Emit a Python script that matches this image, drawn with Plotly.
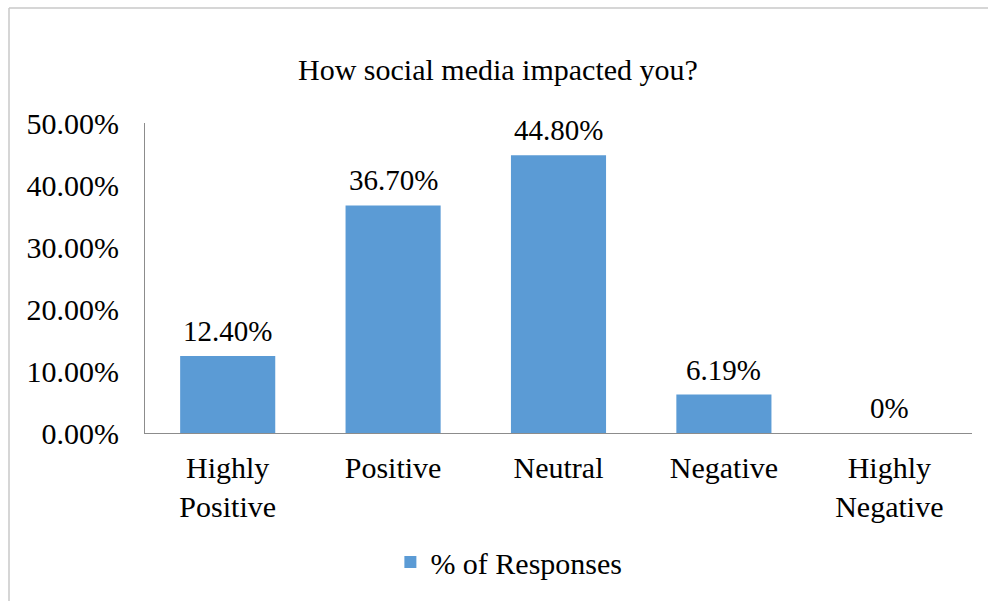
import plotly.graph_objects as go

categories = ["Highly<br>Positive", "Positive", "Neutral", "Negative", "Highly<br>Negative"]
responses = [12.40, 36.70, 44.80, 6.19, 0]
y_ticks = [0, 10, 20, 30, 40, 50]

labels = [f"{v:.2f}%" if v else "0%" for v in responses]
tick_labels = [f"{t:.2f}%" for t in y_ticks]
font_family = "Liberation Serif, Times New Roman, serif"

fig = go.Figure(
    go.Bar(
        x=categories,
        y=responses,
        name="% of Responses",
        marker=dict(color="#5b9bd5", line=dict(width=0)),
    )
)

# value labels sitting just above each bar
for cat, val, lab in zip(categories, responses, labels):
    fig.add_annotation(
        x=cat, y=val, text=lab, showarrow=False,
        xanchor="center", yanchor="bottom", yshift=7,
        font=dict(size=29, family=font_family, color="#000000"),
    )

fig.update_layout(
    width=988,
    height=601,
    margin=dict(l=145, r=16, t=123, b=168),
    paper_bgcolor="white",
    plot_bgcolor="white",
    font=dict(family=font_family, size=30, color="#000000"),
    bargap=0.425,
    showlegend=True,
    title=dict(
        text="How social media impacted you?",
        x=0.504, xanchor="center",
        y=1 - 69 / 601, yanchor="middle",
        font=dict(size=30, family=font_family, color="#000000"),
    ),
    legend=dict(
        orientation="h",
        x=0.44, xanchor="center",
        y=-0.416, yanchor="middle",
        font=dict(size=30, family=font_family),
        itemwidth=30,
    ),
    shapes=[
        dict(type="line", xref="paper", yref="paper",
             x0=(9 - 145) / 827, x1=(9 - 145) / 827, y0=(433 - 601) / 310, y1=(433 - 8) / 310,
             line=dict(color="#c8c8c8", width=1.5)),
        dict(type="line", xref="paper", yref="paper",
             x0=(9 - 145) / 827, x1=(988 - 145) / 827, y0=(433 - 8) / 310, y1=(433 - 8) / 310,
             line=dict(color="#c8c8c8", width=1.5)),
    ],
)

fig.update_xaxes(
    showline=True, linecolor="#8c8c8c", linewidth=1,
    showgrid=False, zeroline=False,
    ticks="outside", ticklen=8, tickcolor="rgba(0,0,0,0)",
    tickfont=dict(size=30),
)
fig.update_yaxes(
    range=[0, 50], tickvals=y_ticks, ticktext=tick_labels,
    showline=True, linecolor="#8c8c8c", linewidth=1,
    showgrid=False, zeroline=False,
    ticks="outside", ticklen=19, tickcolor="rgba(0,0,0,0)",
    tickfont=dict(size=30),
)

fig.write_html("out.html")
